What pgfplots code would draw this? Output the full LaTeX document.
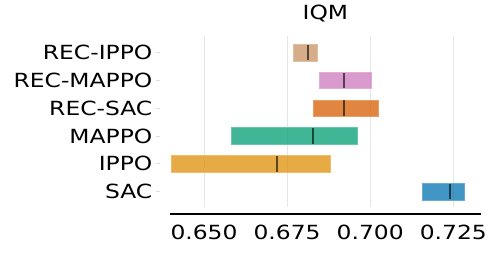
\documentclass[border=0pt]{standalone}
\usepackage{fontspec}
\setmainfont[FakeStretch=1.2]{DejaVu Sans}
\usepackage{pgfplots}
\pgfplotsset{compat=1.18}
\definecolor{cRI}{HTML}{CA9161}
\definecolor{cRM}{HTML}{CC78BC}
\definecolor{cRS}{HTML}{D55E00}
\definecolor{cMA}{HTML}{029E73}
\definecolor{cIP}{HTML}{DE8F05}
\definecolor{cSA}{HTML}{0173B2}
\begin{document}
\begin{tikzpicture}[font=\fontsize{19.5}{23}\selectfont]
\path[use as bounding box] (0,0) rectangle (498pt,253pt);
\begin{axis}[
  at={(170pt,46pt)}, anchor=south west,
  scale only axis, width=310.7pt, height=171pt,
  xmin=0.63977, xmax=0.73324,
  ymin=-0.55, ymax=5.593,
  xtick={0.650,0.675,0.700,0.725},
  xticklabels={0.650,0.675,0.700,0.725},
  ytick={0,1,2,3,4,5},
  yticklabels={SAC,IPPO,MAPPO,REC-SAC,REC-MAPPO,REC-IPPO},
  xmajorgrids, grid style={draw=black!10, line width=0.8pt},
  axis x line*=bottom,
  axis y line*=left,
  y axis line style={draw=none},
  x axis line style={-, yshift=-7pt, line width=2pt, black},
  tick align=outside, major tick length=3.5pt,
  xtick style={draw=none},
  ytick style={draw=black!12, line width=0.8pt, xshift=-10pt},
  xticklabel style={inner sep=0pt, anchor=north, yshift=-14pt, font=\fontsize{19.5}{23}\selectfont},
  yticklabel style={inner sep=0pt, anchor=east, xshift=-14pt, font=\fontsize{19.5}{23}\selectfont},
  /pgf/number format/assume math mode=true,
  title=IQM,
  title style={at={(0.5,1)}, anchor=base, yshift=10.3pt, inner sep=0pt, font=\fontsize{19.5}{23}\selectfont},
  clip=false,
]
% bars: lo, hi at y +/- 0.3
\addplot[fill=cRI, fill opacity=0.75, draw=cRI!60!white, line width=0.6pt] coordinates {(0.6769,4.7) (0.6842,4.7) (0.6842,5.3) (0.6769,5.3)} -- cycle;
\addplot[fill=cRM, fill opacity=0.75, draw=cRM!60!white, line width=0.6pt] coordinates {(0.6847,3.7) (0.7004,3.7) (0.7004,4.3) (0.6847,4.3)} -- cycle;
\addplot[fill=cRS, fill opacity=0.75, draw=cRS!60!white, line width=0.6pt] coordinates {(0.6830,2.7) (0.7023,2.7) (0.7023,3.3) (0.6830,3.3)} -- cycle;
\addplot[fill=cMA, fill opacity=0.75, draw=cMA!60!white, line width=0.6pt] coordinates {(0.6582,1.7) (0.6960,1.7) (0.6960,2.3) (0.6582,2.3)} -- cycle;
\addplot[fill=cIP, fill opacity=0.75, draw=cIP!60!white, line width=0.6pt] coordinates {(0.6403,0.7) (0.6880,0.7) (0.6880,1.3) (0.6403,1.3)} -- cycle;
\addplot[fill=cSA, fill opacity=0.75, draw=cSA!60!white, line width=0.6pt] coordinates {(0.7157,-0.3) (0.7283,-0.3) (0.7283,0.3) (0.7157,0.3)} -- cycle;
% medians
\addplot[black, opacity=0.6, line width=2pt] coordinates {(0.6812,4.72) (0.6812,5.28)};
\addplot[black, opacity=0.6, line width=2pt] coordinates {(0.6921,3.72) (0.6921,4.28)};
\addplot[black, opacity=0.6, line width=2pt] coordinates {(0.6920,2.72) (0.6920,3.28)};
\addplot[black, opacity=0.6, line width=2pt] coordinates {(0.6827,1.72) (0.6827,2.28)};
\addplot[black, opacity=0.6, line width=2pt] coordinates {(0.6719,0.72) (0.6719,1.28)};
\addplot[black, opacity=0.6, line width=2pt] coordinates {(0.7240,-0.28) (0.7240,0.28)};
\end{axis}
\end{tikzpicture}
\end{document}
